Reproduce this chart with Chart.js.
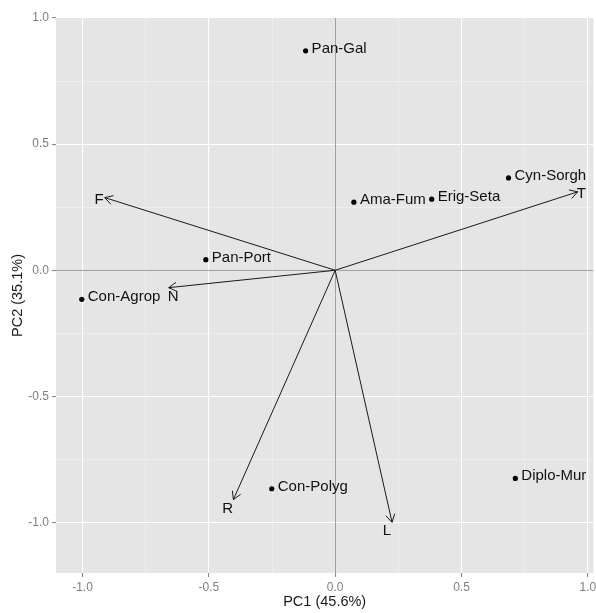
<!DOCTYPE html>
<html>
<head>
<meta charset="utf-8">
<script src="https://cdn.jsdelivr.net/npm/chart.js@4/dist/chart.umd.min.js"></script>
<style>
html,body{margin:0;padding:0;background:#fff;}
canvas{display:block;}
</style>
</head>
<body>
<canvas id="c" width="596" height="613"></canvas>
<script>
// ---- data ----
const speciesNames = ["Pan-Gal","Ama-Fum","Erig-Seta","Cyn-Sorgh","Pan-Port","Con-Agrop","Con-Polyg","Diplo-Mur"];
const speciesX = [-0.117, 0.074, 0.382, 0.686, -0.512, -1.003, -0.251, 0.713];
const speciesY = [0.870, 0.270, 0.282, 0.366, 0.042, -0.115, -0.866, -0.825];

const varNames = ["F","T","N","R","L"];
const varX = [-0.912, 0.960, -0.659, -0.403, 0.225];
const varY = [0.288, 0.311, -0.069, -0.909, -0.999];
const varLabelX = [-0.934, 0.974, -0.641, -0.426, 0.205];
const varLabelY = [0.285, 0.306, -0.099, -0.939, -1.029];

const xMajorTicks = [-1.0, -0.5, 0.0, 0.5, 1.0];
const xMinorTicks = [-0.75, -0.25, 0.25, 0.75];
const yMajorTicks = [-1.0, -0.5, 0.0, 0.5, 1.0];
const yMinorTicks = [-0.75, -0.25, 0.25, 0.75];

const xTitle = "PC1 (45.6%)";
const yTitle = "PC2 (35.1%)";

const FONT = "Arial, 'Liberation Sans', sans-serif";

function buildTicks(major, minor) {
  const t = major.map(v => ({value: v, minor: false})).concat(minor.map(v => ({value: v, minor: true})));
  t.sort((a, b) => a.value - b.value);
  return t;
}

const panelPlugin = {
  id: 'panel',
  beforeDraw(chart) {
    const {ctx, chartArea: a} = chart;
    ctx.save();
    ctx.fillStyle = '#E5E5E5';
    ctx.fillRect(a.left, a.top, a.right - a.left, a.bottom - a.top);
    ctx.restore();
  },
  beforeDatasetsDraw(chart) {
    const {ctx, chartArea: a, scales: {x, y}} = chart;
    ctx.save();
    ctx.strokeStyle = '#A0A0A0';
    ctx.lineWidth = 1;
    const px = Math.round(x.getPixelForValue(0)) + 0.5;
    const py = Math.round(y.getPixelForValue(0)) + 0.5;
    ctx.beginPath();
    ctx.moveTo(px, a.top); ctx.lineTo(px, a.bottom);
    ctx.moveTo(a.left, py); ctx.lineTo(a.right, py);
    ctx.stroke();
    ctx.restore();
  },
  afterDatasetsDraw(chart) {
    const {ctx, scales: {x, y}} = chart;
    ctx.save();
    // arrows
    const ox = x.getPixelForValue(0), oy = y.getPixelForValue(0);
    ctx.strokeStyle = '#1a1a1a';
    ctx.lineWidth = 1;
    for (let i = 0; i < varNames.length; i++) {
      const tx = x.getPixelForValue(varX[i]), ty = y.getPixelForValue(varY[i]);
      ctx.beginPath();
      ctx.moveTo(ox, oy); ctx.lineTo(tx, ty);
      const ang = Math.atan2(ty - oy, tx - ox);
      const len = 9, spread = Math.PI / 6;
      ctx.moveTo(tx - len * Math.cos(ang - spread), ty - len * Math.sin(ang - spread));
      ctx.lineTo(tx, ty);
      ctx.lineTo(tx - len * Math.cos(ang + spread), ty - len * Math.sin(ang + spread));
      ctx.stroke();
    }
    // variable labels
    ctx.fillStyle = '#111';
    ctx.font = '15px ' + FONT;
    ctx.textAlign = 'center';
    ctx.textBaseline = 'alphabetic';
    for (let i = 0; i < varNames.length; i++) {
      const lx = x.getPixelForValue(varLabelX[i]), ly = y.getPixelForValue(varLabelY[i]);
      ctx.fillText(varNames[i], lx, ly + 5.4);
    }
    // species labels
    ctx.textAlign = 'left';
    for (let i = 0; i < speciesNames.length; i++) {
      const lx = x.getPixelForValue(speciesX[i]), ly = y.getPixelForValue(speciesY[i]);
      ctx.fillText(speciesNames[i], lx + 6, ly + 2);
    }
    ctx.restore();
  }
};

new Chart(document.getElementById('c'), {
  type: 'scatter',
  data: {
    datasets: [{
      data: speciesX.map((v, i) => ({x: v, y: speciesY[i]})),
      backgroundColor: '#000',
      borderColor: '#000',
      pointRadius: 2.6,
      pointHoverRadius: 2.6,
      borderWidth: 0
    }]
  },
  options: {
    responsive: false,
    animation: false,
    events: [],
    layout: {padding: {top: 18, right: 1, left: 0, bottom: 0}},
    plugins: {legend: {display: false}, tooltip: {enabled: false}},
    scales: {
      x: {
        type: 'linear',
        min: -1.105, max: 1.022,
        afterBuildTicks(s) { s.ticks = buildTicks(xMajorTicks, xMinorTicks); },
        afterFit(s) { s.height = 40; s.paddingLeft = 0; s.paddingRight = 0; },
        border: {display: false},
        grid: {
          color: c => (c.tick && c.tick.minor) ? '#F2F2F2' : '#FFFFFF',
          lineWidth: c => (c.tick && c.tick.minor) ? 0.6 : 1.1,
          tickColor: c => (c.tick && c.tick.minor) ? 'rgba(0,0,0,0)' : '#8a8a8a',
          tickLength: 4,
          drawTicks: true
        },
        ticks: {
          autoSkip: false,
          maxRotation: 0,
          padding: 3,
          color: '#7F7F7F',
          font: {family: FONT, size: 12},
          callback(v, i, t) { return t[i].minor ? '' : Number(v).toFixed(1); }
        },
        title: {
          display: true, text: xTitle, color: '#1a1a1a',
          font: {family: FONT, size: 14.5},
          padding: {top: 0, bottom: 2.6}
        }
      },
      y: {
        type: 'linear',
        min: -1.2, max: 1.0,
        afterBuildTicks(s) { s.ticks = buildTicks(yMajorTicks, yMinorTicks); },
        afterFit(s) { s.width = 56; s.paddingTop = 0; s.paddingBottom = 0; },
        border: {display: false},
        grid: {
          color: c => (c.tick && c.tick.minor) ? '#F2F2F2' : '#FFFFFF',
          lineWidth: c => (c.tick && c.tick.minor) ? 0.6 : 1.1,
          tickColor: c => (c.tick && c.tick.minor) ? 'rgba(0,0,0,0)' : '#8a8a8a',
          tickLength: 4,
          drawTicks: true
        },
        ticks: {
          autoSkip: false,
          padding: 3,
          color: '#7F7F7F',
          font: {family: FONT, size: 12},
          callback(v, i, t) { return t[i].minor ? '' : Number(v).toFixed(1); }
        },
        title: {
          display: true, text: yTitle, color: '#1a1a1a',
          font: {family: FONT, size: 14.5},
          padding: {top: 9.6, bottom: 0}
        }
      }
    }
  },
  plugins: [panelPlugin]
});
</script>
</body>
</html>
